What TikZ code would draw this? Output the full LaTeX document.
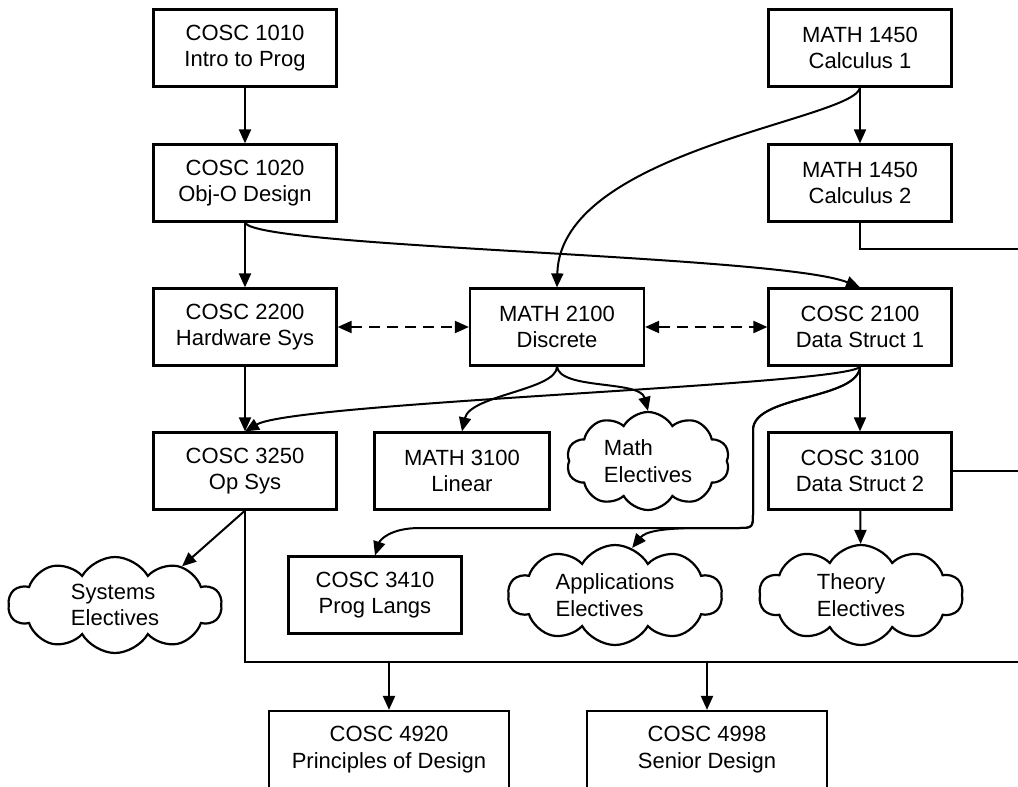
\documentclass[tikz,border=0pt]{standalone}
\usepackage{fontspec}
\setmainfont{Liberation Sans}
\usetikzlibrary{shapes}
\usetikzlibrary{arrows.meta}

\begin{document}
\begin{tikzpicture}[x=1pt,y=1pt]
	\tikzstyle{course}=[rectangle,draw,line width=2.2pt,align=center,minimum width=183pt,minimum height=77pt,inner sep=0pt,font=\fontsize{22}{26.5}\selectfont]
	\tikzstyle{elective}=[cloud,draw,line width=2.2pt,align=left,cloud puffs=10,cloud puff arc=120,cloud ignores aspect,inner sep=0pt,minimum height=100pt,font=\fontsize{22}{26.5}\selectfont]
	\tikzstyle{pre}=[line width=2pt,-{Triangle[length=14pt,width=12pt]}]
	\tikzstyle{coreq}=[line width=2pt,dash pattern=on 11pt off 7pt,{Triangle[length=14pt,width=12pt]}-{Triangle[length=14pt,width=12pt]}]
	\tikzstyle{wire}=[line width=2pt]

	\useasboundingbox (0,0) rectangle (1018,-787);

	\node[course] (c1010) at (245,-48) {COSC 1010\\Intro to Prog};
	\node[course] (c1020) at (245,-183) {COSC 1020\\Obj-O Design};
	\node[course] (m1450a) at (860,-48) {MATH 1450\\Calculus 1};
	\node[course] (m1450b) at (860,-183) {MATH 1450\\Calculus 2};
	\node[course] (c2200) at (245,-327) {COSC 2200\\Hardware Sys};
	\node[course,minimum width=174pt] (m2100) at (557,-327) {MATH 2100\\Discrete};
	\node[course] (c2100) at (860,-327) {COSC 2100\\Data Struct 1};
	\node[course] (c3250) at (245,-471) {COSC 3250\\Op Sys};
	\node[course,minimum width=175pt] (m3100) at (462,-471) {MATH 3100\\Linear};
	\node[elective,minimum width=163pt,minimum height=98pt] (mathel) at (648,-461) {Math\\Electives};
	\node[course] (c3100) at (860,-471) {COSC 3100\\Data Struct 2};
	\node[course,minimum width=173pt] (c3410) at (375,-595) {COSC 3410\\Prog Langs};
	\node[elective,minimum width=213pt,minimum height=96pt] (sysel) at (115,-605) {Systems\\Electives};
	\node[elective,minimum width=214pt] (appel) at (615,-595) {Applications\\Electives};
	\node[elective,minimum width=204pt] (theoryel) at (861,-595) {Theory\\Electives};
	\node[course,minimum width=240pt] (c4920) at (389,-749.5) {COSC 4920\\Principles of Design};
	\node[course,minimum width=240pt] (c4998) at (707,-749.5) {COSC 4998\\Senior Design};

	\coordinate (calcout) at (1030,-249);
	\coordinate (ds2out) at (1030,-471);
	\coordinate (bus) at (245,-662);
	\coordinate (busout) at (1030,-662);

	\draw[pre] (c1010) -- (c1020);
	\draw[pre] (c1020) -- (c2200);
	\draw[pre] (m1450a.south) -- (m1450b.north);
	\draw[pre] (c1020.south) .. controls (255,-248) and (780,-255) .. (c2100.north);
	\draw[pre] (m1450a.south) .. controls (855,-120) and (560,-150) .. (m2100.north);
	\draw[wire] (m1450b.south) |- (calcout);
	\draw[coreq] (c2200) -- (m2100);
	\draw[coreq] (m2100) -- (c2100);
	\draw[pre] (c2200) -- (c3250);
	\draw[pre] (c2100.south) .. controls (850,-385) and (295,-402) .. (c3250.north);
	\draw[pre] (m2100.south) .. controls (557,-390) and (470,-395) .. (m3100.north);
	\draw[pre] (m2100.south) .. controls (560,-390) and (640,-380) .. (mathel.north);
	\draw[pre] (c2100) -- (c3100);
	\draw[pre] (c2100.south) .. controls (858,-400) and (753,-395) .. (753,-430) -- (753,-512) .. controls (753,-528) .. (737,-528) -- (420,-528) .. controls (390,-528) and (380,-540) .. (c3410.north);
	\draw[pre] (c2100.south) .. controls (858,-400) and (753,-395) .. (753,-430) -- (753,-512) .. controls (753,-528) .. (737,-528) -- (700,-528) .. controls (660,-528) and (645,-532) .. (appel.70);
	\draw[pre] (c3100) -- (theoryel);
	\draw[wire] (c3100.east) -- (ds2out);
	\draw[pre] (c3250.south) -- (sysel.30);
	\draw[pre] (c3250.south) -- (bus) -| (c4920.north);
	\draw[pre] (bus) -| (c4998.north);
	\draw[wire] (bus) -- (busout);
\end{tikzpicture}
\end{document}
